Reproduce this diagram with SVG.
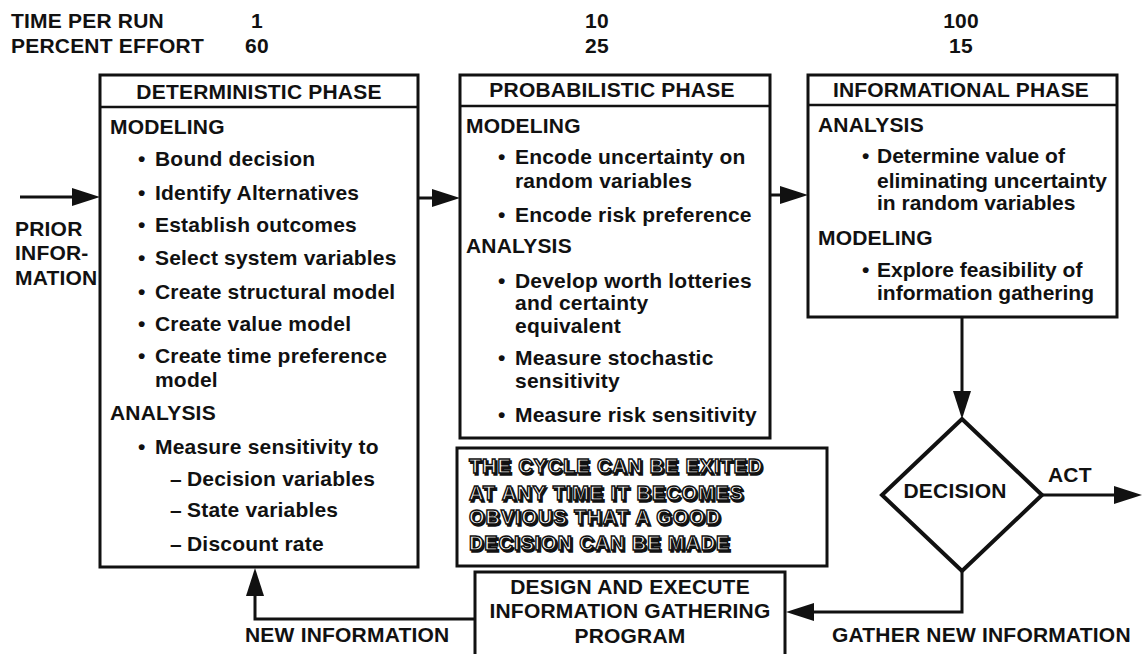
<svg xmlns="http://www.w3.org/2000/svg" width="1142" height="654" viewBox="0 0 1142 654">
  <style>
    text { font-family: "Liberation Sans", Arial, Helvetica, sans-serif; font-weight: bold; font-size: 21px; letter-spacing: 0.2px; fill: #111; }
    .box { fill: #fff; stroke: #111; stroke-width: 3; }
    .rule { stroke: #111; stroke-width: 2.5; }
    .mid { text-anchor: middle; }
    .tight { letter-spacing: 0; }
    .wire { fill: none; stroke: #111; stroke-width: 3; }
    .hollow { fill: #fff; stroke: #111; stroke-width: 1.4px; font-size: 20px; letter-spacing: 0.9px; }
    .shadow { fill: #111; stroke: #111; stroke-width: 1.4px; font-size: 20px; letter-spacing: 0.9px; }
  </style>
  <defs>
    <marker id="arrow" viewBox="0 0 28 18" refX="1" refY="9" markerWidth="28" markerHeight="18" markerUnits="userSpaceOnUse" orient="auto">
      <path d="M0,0 L28,9 L0,18 z" fill="#111"/>
    </marker>
  </defs>
  <rect width="1142" height="654" fill="#fff"/>

  <!-- run table across the top -->
  <g id="run-table">
    <text x="11" y="28">TIME PER RUN</text>
    <text x="11" y="53">PERCENT EFFORT</text>
    <text class="mid" x="257" y="28">1</text>
    <text class="mid" x="257" y="53">60</text>
    <text class="mid" x="597" y="28">10</text>
    <text class="mid" x="597" y="53">25</text>
    <text class="mid" x="961" y="28">100</text>
    <text class="mid" x="961" y="53">15</text>
  </g>

  <g id="prior-information">
    <text x="15" y="236">PRIOR</text>
    <text x="15" y="260">INFOR-</text>
    <text x="15" y="285">MATION</text>
  </g>

  <!-- deterministic phase -->
  <g id="deterministic-phase">
    <rect class="box" x="100" y="75" width="318" height="492"/>
    <line class="rule" x1="100" y1="107" x2="418" y2="107"/>
    <text class="mid" x="259" y="99">DETERMINISTIC PHASE</text>
    <text x="110" y="134">MODELING</text>
    <text><tspan x="138" y="166">•</tspan><tspan x="155">Bound decision</tspan></text>
    <text><tspan x="138" y="200">•</tspan><tspan x="155">Identify Alternatives</tspan></text>
    <text><tspan x="138" y="232">•</tspan><tspan x="155">Establish outcomes</tspan></text>
    <text><tspan x="138" y="265">•</tspan><tspan x="155">Select system variables</tspan></text>
    <text><tspan x="138" y="299">•</tspan><tspan x="155">Create structural model</tspan></text>
    <text><tspan x="138" y="331">•</tspan><tspan x="155">Create value model</tspan></text>
    <text><tspan x="138" y="363">•</tspan><tspan x="155">Create time preference</tspan></text>
    <text x="155" y="387">model</text>
    <text x="110" y="420">ANALYSIS</text>
    <text><tspan x="138" y="454">•</tspan><tspan x="155">Measure sensitivity to</tspan></text>
    <text><tspan x="170" y="486">–</tspan><tspan x="187">Decision  variables</tspan></text>
    <text><tspan x="170" y="517">–</tspan><tspan x="187">State variables</tspan></text>
    <text><tspan x="170" y="551">–</tspan><tspan x="187">Discount rate</tspan></text>
  </g>

  <!-- probabilistic phase -->
  <g id="probabilistic-phase">
    <rect class="box" x="460" y="75" width="310" height="363"/>
    <line class="rule" x1="460" y1="106" x2="770" y2="106"/>
    <text class="mid" x="612" y="97">PROBABILISTIC PHASE</text>
    <text x="466" y="133">MODELING</text>
    <text><tspan x="498" y="164">•</tspan><tspan x="515">Encode uncertainty on</tspan></text>
    <text x="515" y="188">random variables</text>
    <text><tspan x="498" y="222">•</tspan><tspan x="515">Encode risk preference</tspan></text>
    <text x="466" y="253">ANALYSIS</text>
    <text><tspan x="498" y="288">•</tspan><tspan x="515">Develop worth lotteries</tspan></text>
    <text x="515" y="310">and certainty</text>
    <text x="515" y="333">equivalent</text>
    <text><tspan x="498" y="365">•</tspan><tspan x="515">Measure stochastic</tspan></text>
    <text x="515" y="388">sensitivity</text>
    <text><tspan x="498" y="422">•</tspan><tspan x="515">Measure risk sensitivity</tspan></text>
  </g>

  <!-- informational phase -->
  <g id="informational-phase">
    <rect class="box" x="808" y="75" width="309" height="242"/>
    <line class="rule" x1="808" y1="105" x2="1117" y2="105"/>
    <text class="mid" x="961" y="97">INFORMATIONAL PHASE</text>
    <text x="818" y="132">ANALYSIS</text>
    <text class="tight"><tspan x="862" y="163">•</tspan><tspan x="877">Determine value of</tspan></text>
    <text class="tight" x="877" y="188">eliminating uncertainty</text>
    <text class="tight" x="877" y="210">in random variables</text>
    <text x="818" y="245">MODELING</text>
    <text class="tight"><tspan x="862" y="277">•</tspan><tspan x="877">Explore feasibility of</tspan></text>
    <text class="tight" x="877" y="300">information gathering</text>
  </g>

  <!-- decision point -->
  <g id="decision">
    <polygon points="962,419 1042,495 962,571 882,495" fill="#fff" stroke="#111" stroke-width="4" stroke-linejoin="miter"/>
    <text class="mid" x="955" y="498">DECISION</text>
  </g>

  <!-- exit note, set in a shadowed outline face -->
  <g id="exit-note">
    <rect class="box" x="457" y="448" width="370" height="118"/>
    <g transform="translate(1.6,1.6)">
      <text class="shadow" x="469" y="473">THE CYCLE CAN BE EXITED</text>
      <text class="shadow" x="469" y="500">AT ANY TIME IT BECOMES</text>
      <text class="shadow" x="469" y="524">OBVIOUS THAT A GOOD</text>
      <text class="shadow" x="469" y="550">DECISION CAN BE MADE</text>
    </g>
    <text class="hollow" x="469" y="473">THE CYCLE CAN BE EXITED</text>
    <text class="hollow" x="469" y="500">AT ANY TIME IT BECOMES</text>
    <text class="hollow" x="469" y="524">OBVIOUS THAT A GOOD</text>
    <text class="hollow" x="469" y="550">DECISION CAN BE MADE</text>
  </g>

  <!-- information gathering program -->
  <g id="gathering-program">
    <rect class="box" x="475" y="572" width="310" height="95"/>
    <text class="mid" x="630" y="594">DESIGN AND EXECUTE</text>
    <text class="mid" x="630" y="618">INFORMATION GATHERING</text>
    <text class="mid" x="630" y="643">PROGRAM</text>
  </g>

  <!-- connectors -->
  <g id="connectors">
    <line class="wire" x1="20" y1="197" x2="73" y2="197" marker-end="url(#arrow)"/>
    <line class="wire" x1="418" y1="198" x2="433" y2="198" marker-end="url(#arrow)"/>
    <line class="wire" x1="770" y1="195" x2="781" y2="195" marker-end="url(#arrow)"/>
    <line class="wire" x1="962" y1="317" x2="962" y2="392" marker-end="url(#arrow)"/>
    <line class="wire" x1="1042" y1="495" x2="1115" y2="495" marker-end="url(#arrow)"/>
    <path class="wire" d="M962,571 V612 H813" marker-end="url(#arrow)"/>
    <path class="wire" d="M475,619 H255 V595" marker-end="url(#arrow)"/>
  </g>

  <g id="connector-labels">
    <text x="1048" y="482">ACT</text>
    <text x="832" y="642">GATHER NEW INFORMATION</text>
    <text x="245" y="642">NEW INFORMATION</text>
  </g>
</svg>
